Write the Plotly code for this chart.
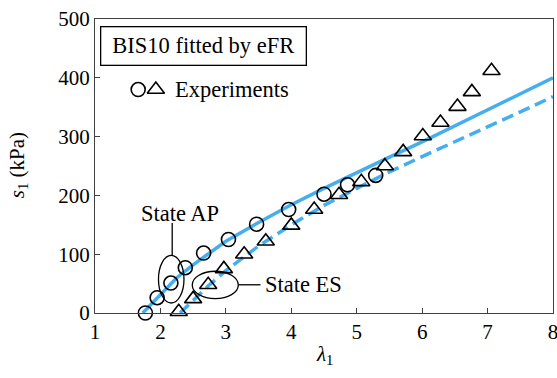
import plotly.graph_objects as go

# Experimental data: State AP (circles)
ap_lambda = [1.77, 1.95, 2.16, 2.38, 2.66, 3.04, 3.47, 3.96, 4.50, 4.86, 5.29]
ap_s = [0, 26, 51, 77, 102, 125, 151, 176, 202, 218, 234]

# Experimental data: State ES (triangles)
es_lambda = [2.28, 2.50, 2.73, 2.97, 3.28, 3.61, 4.00, 4.35, 4.73, 5.07, 5.43, 5.71, 6.01, 6.28, 6.54, 6.76, 7.06]
es_s = [2, 24, 48, 75, 100, 122, 149, 176, 201, 223, 250, 274, 301, 324, 351, 376, 412]

# eFR fit curves
fit_ap_lambda = [1.73, 2.0, 2.25, 2.5, 2.75, 3.0, 3.5, 4.0, 4.5, 5.0, 5.5, 6.0, 6.5, 7.0, 7.5, 8.0]
fit_ap_s = [0, 32, 60, 82, 102, 122, 154, 184, 212, 239, 265, 291, 318, 345, 372, 400]

fit_es_lambda = [2.30, 2.5, 2.75, 3.0, 3.5, 4.0, 4.5, 5.0, 5.5, 6.0, 6.5, 7.0, 7.5, 8.0]
fit_es_s = [0, 22, 48, 72, 114, 150, 183, 212, 240, 266, 291, 316, 342, 368]

x_ticks = [1, 2, 3, 4, 5, 6, 7, 8]
y_ticks = [0, 100, 200, 300, 400, 500]

BLUE = "#45AEEF"
FONT = "Liberation Serif"
FS = 21
FS_TXT = 22.5

fig = go.Figure()
fig.add_trace(go.Scatter(x=fit_ap_lambda, y=fit_ap_s, mode="lines",
                         line=dict(color=BLUE, width=3.5), showlegend=False))
fig.add_trace(go.Scatter(x=fit_es_lambda, y=fit_es_s, mode="lines",
                         line=dict(color=BLUE, width=3.5, dash="12px,6px"), showlegend=False))
fig.add_trace(go.Scatter(x=ap_lambda, y=ap_s, mode="markers", cliponaxis=False,
                         marker=dict(symbol="circle-open", size=14, color="black",
                                     line=dict(color="black", width=1.6)),
                         showlegend=False))
fig.add_trace(go.Scatter(x=es_lambda, y=es_s, mode="markers", cliponaxis=False,
                         marker=dict(symbol="triangle-up-open", size=15, color="black",
                                     line=dict(color="black", width=1.6)),
                         showlegend=False))

# Legend key symbols (placed in layout space)
LEG_X = [1.66, 1.93]
LEG_Y = [380, 380]
fig.add_trace(go.Scatter(x=LEG_X[:1], y=LEG_Y[:1], mode="markers", cliponaxis=False,
                         marker=dict(symbol="circle-open", size=14, color="black",
                                     line=dict(color="black", width=1.6)), showlegend=False))
fig.add_trace(go.Scatter(x=LEG_X[1:], y=LEG_Y[1:], mode="markers", cliponaxis=False,
                         marker=dict(symbol="triangle-up-open", size=15, color="black",
                                     line=dict(color="black", width=1.6)), showlegend=False))

annotations = [
    dict(x=2.19, y=380, xref="x", yref="y", text="Experiments", showarrow=False,
         xanchor="left", yanchor="middle", font=dict(family=FONT, size=FS_TXT, color="black")),
    dict(x=0.236, y=0.9065, xref="paper", yref="paper", text="BIS10 fitted by eFR",
         showarrow=False, xanchor="center", yanchor="middle",
         bordercolor="black", borderwidth=1.3, borderpad=6, width=192,
         font=dict(family=FONT, size=FS_TXT, color="black")),
    dict(x=2.30, y=170, xref="x", yref="y", text="State AP", showarrow=False,
         xanchor="center", yanchor="middle", font=dict(family=FONT, size=FS_TXT, color="black")),
    dict(x=3.565, y=48, xref="x", yref="y", text="State ES", showarrow=False,
         xanchor="left", yanchor="middle", font=dict(family=FONT, size=FS_TXT, color="black")),
    # axis titles
    dict(x=0.502, y=0, xref="paper", yref="paper", yshift=-42, text="<i>λ</i><sub>1</sub>",
         showarrow=False, xanchor="center", yanchor="middle",
         font=dict(family=FONT, size=FS, color="black")),
    dict(x=-0.168, y=0.503, xref="paper", yref="paper", text="<i>s</i><sub>1</sub> (kPa)",
         textangle=-90, showarrow=False, xanchor="center", yanchor="middle",
         font=dict(family=FONT, size=FS, color="black")),
]

shapes = [
    dict(type="circle", xref="x", yref="y", x0=1.97, x1=2.36, y0=17, y1=98,
         line=dict(color="black", width=1.3)),
    dict(type="line", xref="x", yref="y", x0=2.18, x1=2.18, y0=98, y1=153,
         line=dict(color="black", width=1.3)),
    dict(type="circle", xref="x", yref="y", x0=2.486, x1=3.19, y0=24.5, y1=71,
         line=dict(color="black", width=1.3)),
    dict(type="line", xref="x", yref="y", x0=3.19, x1=3.53, y0=48, y1=48,
         line=dict(color="black", width=1.3)),
]

axis_common = dict(showgrid=False, zeroline=False, showline=True, linecolor="#404040",
                   linewidth=1.3, mirror=True, ticks="inside", ticklen=5, tickwidth=1.3,
                   tickcolor="#404040", automargin=False, ticklabeloverflow="allow",
                   tickfont=dict(family=FONT, size=FS, color="black"))

fig.update_layout(
    width=557, height=378,
    margin=dict(l=95, r=4, t=19, b=65, autoexpand=False),
    paper_bgcolor="white", plot_bgcolor="white",
    annotations=annotations, shapes=shapes,
    xaxis=dict(range=[1, 8], tickvals=x_ticks, **axis_common),
    yaxis=dict(range=[0, 500], tickvals=y_ticks, **axis_common),
)

# remove the default 8px page margin so the figure fills the window exactly
fig.write_html("out.html", config={"displayModeBar": False},
               post_script="document.body.style.margin='0';document.body.style.overflow='hidden';")
